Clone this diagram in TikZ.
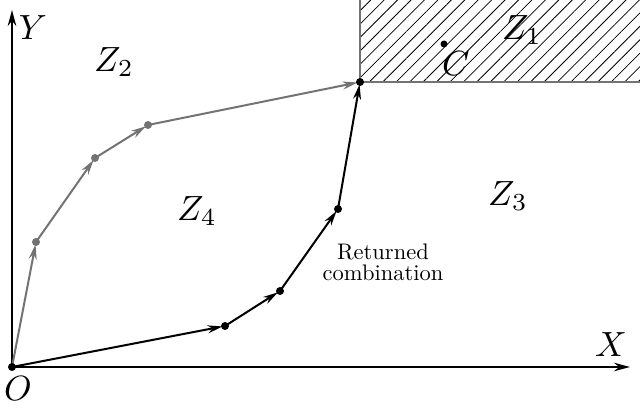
\documentclass[tikz,border=0pt]{standalone}
\usetikzlibrary{arrows.meta,patterns.meta}
\tikzset{
  axis/.style={line width=2.2pt,-{Stealth[length=16pt,width=8.5pt]}},
  seg/.style={line width=2pt,-{Stealth[length=15pt,width=8pt]},shorten >=2.5pt},
  grayseg/.style={seg,draw=black!55},
  blackseg/.style={seg,draw=black},
  dotb/.style={circle,fill=black,inner sep=0pt,minimum size=8pt},
  dotg/.style={circle,fill=black!55,inner sep=0pt,minimum size=8pt},
  mlabel/.style={font=\fontsize{10}{12}\selectfont,scale=3.5,inner sep=0pt},
  tlabel/.style={font=\fontsize{10}{9.2}\selectfont,scale=2.25,align=center,inner sep=0pt},
}
\begin{document}
\begin{tikzpicture}[x=1pt,y=-1pt]
\useasboundingbox (0,0) rectangle (640,411);
% hatched region
\fill[pattern={Lines[angle=45,distance=9.5pt,line width=0.8pt]}] (360,0) rectangle (640,82);
\draw[line width=1.6pt,draw=black!55] (360,0) -- (360,82) -- (640,82);
% points
\coordinate (O) at (12,367);
\coordinate (Xend) at (630,367);
\coordinate (Yend) at (12,10);
\coordinate (T) at (360,82);
\coordinate (g1) at (36,242);
\coordinate (g2) at (95,158);
\coordinate (g3) at (148,125);
\coordinate (b1) at (225,326);
\coordinate (b2) at (280,291);
\coordinate (b3) at (338,209);
% axes
\draw[axis] (O) -- (Xend);
\draw[axis] (O) -- (Yend);
% gray path
\draw[grayseg] (O) -- (g1);
\draw[grayseg] (g1) -- (g2);
\draw[grayseg] (g2) -- (g3);
\draw[grayseg] (g3) -- (T);
\node[dotg] (G1) at (g1) {};
\node[dotg] (G2) at (g2) {};
\node[dotg] (G3) at (g3) {};
% black path
\draw[blackseg] (O) -- (b1);
\draw[blackseg] (b1) -- (b2);
\draw[blackseg] (b2) -- (b3);
\draw[blackseg] (b3) -- (T);
\node[dotb] (B1) at (b1) {};
\node[dotb] (B2) at (b2) {};
\node[dotb] (B3) at (b3) {};
\node[dotb] (TT) at (T) {};
\node[dotb] (OO) at (O) {};
\node[dotb,minimum size=7pt] (Cdot) at (444,44) {};
% labels
\node[mlabel] (Ylab) at (33,28) {$Y$};
\node[mlabel] (Xlab) at (611,345) {$X$};
\node[mlabel] (Olab) at (18,389) {$O$};
\node[mlabel] (Clab) at (456,64) {$C$};
\node[mlabel] (Z1) at (522,30) {$Z_1$};
\node[mlabel] (Z2) at (114,62) {$Z_2$};
\node[mlabel] (Z3) at (508,196) {$Z_3$};
\node[mlabel] (Z4) at (197,211) {$Z_4$};
\node[tlabel] (ret) at (383,262) {Returned\\combination};
\end{tikzpicture}
\end{document}
